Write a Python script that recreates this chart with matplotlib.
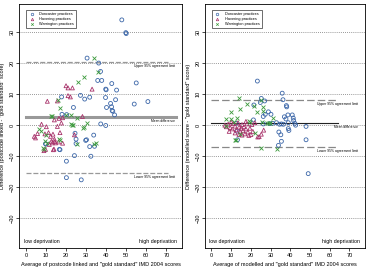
import numpy as np
import matplotlib
matplotlib.use('Agg')
import matplotlib.pyplot as plt

plt.rcParams['font.family'] = ['Liberation Sans', 'DejaVu Sans']

# ---- left panel: postcode linked vs gold standard ----
don_left = [(47.8, 33.9), (49.8, 29.8), (50.0, 29.5), (30.5, 21.6), (36.3, 20.0), (37.2, 17.3),
            (35.8, 14.4), (37.8, 14.4), (42.8, 13.4), (55.0, 13.6), (39.8, 11.6), (40.0, 11.4),
            (45.2, 11.3), (27.2, 9.6), (17.8, 9.1), (31.8, 9.0), (29.3, 8.4), (39.7, 8.9),
            (44.7, 8.2), (23.7, 5.7), (42.2, 7.0), (40.2, 5.7), (42.7, 5.9), (43.0, 4.7),
            (43.3, 4.5), (44.2, 3.3), (54.0, 6.8), (60.8, 7.6), (18.0, 3.5), (20.3, 3.4),
            (37.3, 0.4), (39.8, -0.1), (33.8, -3.2), (24.5, -2.6), (25.0, -4.5), (30.2, -4.7),
            (29.8, -4.9), (31.8, -6.9), (34.2, -6.8), (10.0, -6.1), (17.0, -7.9), (16.7, -7.8),
            (24.2, -9.8), (32.4, -10.0), (20.2, -11.6), (20.2, -16.9), (27.6, -17.6),
            (9.8, -6.0), (25.0, -5.9)]
hav_left = [(10.7, 7.7), (15.7, 7.8), (20.0, 12.7), (21.0, 12.0), (23.2, 12.0), (33.0, 11.6),
            (21.0, 9.5), (22.2, 9.1), (28.2, 2.8), (18.3, 2.4), (7.8, 0.3), (10.2, -0.5),
            (14.2, 1.7), (16.5, 2.2), (17.7, 0.7), (15.7, -0.4), (4.2, -3.6), (5.8, -2.7),
            (9.5, -2.8), (11.3, -2.4), (13.5, -2.9), (14.2, -4.5), (12.7, -5.2), (14.3, -5.3),
            (16.3, -5.4), (13.2, -5.7), (14.8, -5.7), (11.7, -6.2), (18.3, -5.8), (13.7, -7.9),
            (9.0, -8.2), (12.3, -3.6), (17.0, -2.4), (24.2, -3.1), (4.8, -4.1), (14.0, -7.7),
            (9.8, -7.8)]
war_left = [(33.8, 21.6), (36.0, 17.2), (29.0, 15.6), (25.8, 13.9), (15.8, 8.2), (17.0, 5.5),
            (20.2, 3.4), (22.5, 3.4), (13.2, 2.8), (25.3, 2.3), (30.7, 0.7), (28.3, -1.0),
            (22.8, 0.0), (12.5, 2.8), (22.3, 0.5), (6.5, -1.3), (7.3, -2.0), (9.8, -3.1),
            (9.5, -5.1), (10.3, -5.6), (17.0, -4.7), (25.3, -6.0), (9.2, -7.7), (34.7, -5.7),
            (16.5, -4.5), (8.3, -7.3), (23.3, 0.1), (28.8, -0.7), (34.0, -5.9)]
left_mean, left_upper, left_lower = 2.7, 20.5, -15.3

# ---- right panel: modelled vs gold standard ----
don_right = [(23.3, 14.2), (35.9, 10.3), (36.3, 8.2), (38.0, 6.3), (38.2, 5.9), (25.3, 8.6),
             (24.8, 7.3), (21.5, 6.5), (27.0, 7.8), (28.9, 4.3), (27.3, 3.5), (26.3, 2.8),
             (30.2, 3.5), (21.3, 1.7), (37.0, 2.7), (38.8, 3.3), (37.8, 2.0), (41.0, 3.3),
             (41.5, 2.3), (41.7, 1.5), (42.3, 0.6), (42.7, 0.0), (39.0, 0.8), (39.0, -1.1),
             (39.3, -1.7), (48.0, -0.4), (34.5, 0.3), (35.5, 0.4), (36.5, 0.3), (33.0, 0.8),
             (34.2, -2.2), (35.2, -3.1), (12.5, 0.6), (13.0, -1.9), (26.3, 0.4), (13.2, -4.7),
             (34.0, -6.5), (35.5, -5.2), (48.0, -4.7), (49.1, -15.6), (29.5, 0.5), (31.0, 0.6)]
hav_right = [(6.8, 0.0), (7.5, -0.5), (8.5, 0.3), (9.5, -0.8), (10.5, -1.2), (11.0, 0.5),
             (12.0, -0.3), (12.5, -1.5), (13.5, 0.8), (14.0, -0.6), (14.5, -2.0), (15.0, -1.0),
             (15.5, 0.2), (16.0, -1.8), (16.5, -0.5), (17.0, -2.8), (17.5, -1.2), (18.0, 0.4),
             (18.5, -2.2), (19.0, -3.3), (19.5, -1.0), (20.0, -3.0), (21.0, -2.0), (22.0, 0.8),
             (23.5, -3.8), (24.2, -3.7), (25.3, -2.9), (26.5, -1.6), (14.0, -3.0), (15.5, -3.2),
             (12.0, -2.5), (9.0, -2.0), (10.0, 1.0), (17.5, 1.2), (20.5, 0.2)]
war_right = [(14.0, 8.6), (10.0, 4.1), (14.3, 5.3), (18.2, 6.7), (21.7, 6.1), (25.3, 8.2),
             (26.3, 5.9), (26.0, 4.6), (23.0, 4.3), (13.2, 2.4), (7.2, 1.9), (9.7, 1.9),
             (25.8, 1.0), (31.3, 2.2), (19.8, 1.1), (11.2, 0.9), (19.2, 1.4), (22.2, -2.4),
             (14.7, -3.0), (12.2, -4.7), (11.8, -4.8), (25.2, -7.3), (33.3, -7.8), (7.3, -0.4),
             (28.3, 0.7), (29.0, 0.8), (29.5, 0.6)]
right_mean, right_upper, right_lower = 0.6, 8.2, -6.9

groups = ['Doncaster practices', 'Havering practices', 'Warrington practices']
colors = ['#3b66a8', '#a8326a', '#3c9a3c']
markers = ['o', '^', 'x']

fs = 4.0
fig = plt.figure(figsize=(3.67, 2.70), dpi=100)
ax1 = fig.add_axes([0.053, 0.082, 0.444, 0.903])
ax2 = fig.add_axes([0.559, 0.082, 0.436, 0.903])


def panel(ax, data, mean, upper, lower, line_end, mean_style, xlabel, ylabel):
    for yy in range(-30, 31, 10):
        ax.axhline(yy, color='#777777', lw=0.6, ls=(0, (1, 1.5)), zorder=1)
    for pts, c, m in zip(data, colors, markers):
        arr = np.array(pts)
        if m == 'x':
            ax.scatter(arr[:, 0], arr[:, 1], s=8, marker=m, color=c, lw=0.6, zorder=3)
        else:
            ax.scatter(arr[:, 0], arr[:, 1], s=8, marker=m, facecolors='none',
                       edgecolors=c, lw=0.6, zorder=3)
    ax.plot([0, line_end], [upper, upper], **mean_style['lim'])
    ax.plot([0, line_end], [lower, lower], **mean_style['lim'])
    ax.plot([0, mean_style['mean_end']], [mean, mean], **mean_style['mean'])
    ax.text(74.5, upper - 1.3, 'Upper 95% agreement limit', fontsize=2.4, ha='right', va='center')
    ax.text(74.5, mean - 1.3, 'Mean difference', fontsize=2.4, ha='right', va='center')
    ax.text(74.5, lower - 1.3, 'Lower 95% agreement limit', fontsize=2.4, ha='right', va='center')
    ax.text(-1, -37.4, 'low deprivation', fontsize=fs * 0.95, ha='left', va='center')
    ax.text(75.5, -37.4, 'high deprivation', fontsize=fs * 0.95, ha='right', va='center')
    ax.set_xlim(-3.2, 78)
    ax.set_ylim(-39.5, 39)
    ax.set_xticks(range(0, 71, 10))
    ax.set_yticks(range(-30, 31, 10))
    ax.tick_params(labelsize=fs, length=2, width=0.5, pad=1.5)
    for lab in ax.get_yticklabels():
        lab.set_rotation(90)
        lab.set_va('center')
    for s in ax.spines.values():
        s.set_linewidth(0.6)
    ax.set_xlabel(xlabel, fontsize=fs, labelpad=3)
    ax.set_ylabel(ylabel, fontsize=fs, labelpad=3)

    handles = [plt.Line2D([], [], ls='none', marker=m, color=c, markersize=1.8,
                          markeredgewidth=0.5, markerfacecolor='none' if m != 'x' else c)
               for c, m in zip(colors, markers)]
    leg = ax.legend(handles, groups, loc='upper left', fontsize=2.8, frameon=True,
                    fancybox=False, edgecolor='#333333', borderpad=0.6, handlelength=1.5,
                    handletextpad=1.2, labelspacing=0.25, bbox_to_anchor=(0.03, 0.985))
    leg.get_frame().set_linewidth(0.5)
    leg.get_frame().set_alpha(1)


left_style = {'lim': dict(color='#999999', lw=0.9, ls=(0, (4, 1.5)), zorder=2),
              'mean': dict(color='#999999', lw=2.2, zorder=2), 'mean_end': 75}
right_style = {'lim': dict(color='#888888', lw=0.9, ls=(0, (6, 2.5)), zorder=2),
               'mean': dict(color='#222222', lw=0.8, zorder=2), 'mean_end': 64}

panel(ax1, [don_left, hav_left, war_left], left_mean, left_upper, left_lower, 71, left_style,
      'Average of postcode linked and "gold standard" IMD 2004 scores',
      'Difference (postcode linked - "gold standard" score)')
panel(ax2, [don_right, hav_right, war_right], right_mean, right_upper, right_lower, 64, right_style,
      'Average of modelled and "gold standard" IMD 2004 scores',
      'Difference (modelled score - "gold standard" score)')

fig.savefig('out.png', dpi=100)
